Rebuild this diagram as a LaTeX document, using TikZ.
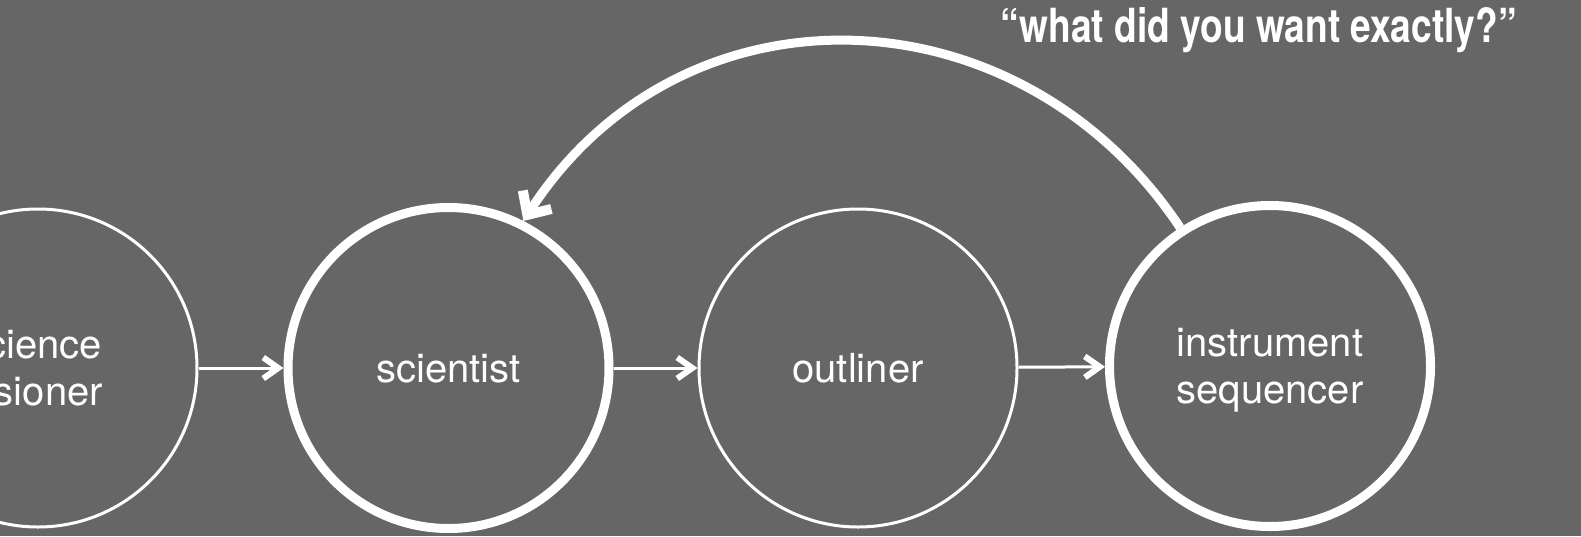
\documentclass[tikz,border=0pt]{standalone}
\usepackage{fontspec}
\setmainfont{TeX Gyre Heros}
\newfontfamily\titlefont[FakeStretch=0.79]{TeX Gyre Heros}
\usetikzlibrary{arrows.meta}
\definecolor{bg}{RGB}{102,102,102}
\tikzset{
  thinrole/.style={circle, draw=white, line width=3pt, minimum size=318pt,
    inner sep=0pt, text=white, align=center, text depth=0pt,
    font=\fontsize{40}{47}\selectfont},
  thickrole/.style={thinrole, line width=9pt, minimum size=321pt},
  labeltext/.style={text=white, align=center, text depth=0pt,
    font=\fontsize{40}{47}\selectfont, inner sep=0pt},
  handoff/.style={draw=white, line width=3pt,
    -{Straight Barb[length=15pt, width=21pt, line width=6pt]}},
  feedback/.style={draw=white, line width=9pt,
    -{Straight Barb[length=18pt, width=34pt, line width=10pt]}},
}
\begin{document}
\begin{tikzpicture}[x=1pt, y=-1pt]
  \fill[bg] (0,0) rectangle (1581,536);
  \useasboundingbox (0,0) rectangle (1581,536);

  % the four roles in the chain
  \node[thinrole]  (vis) at (38,368)   {};
  \node[labeltext] (vislabel) at (34,368) {science\\visioner};
  \node[thickrole] (sci) at (448.5,368) {scientist};
  \node[thinrole]  (out) at (858,368)  {outliner};
  \node[thickrole] (ins) at (1270,366) {instrument\\sequencer};

  % hand-offs along the chain
  \draw[handoff] (vis) -- (sci);
  \draw[handoff] (sci) -- (out);
  \draw[handoff] (out) -- (ins);

  % the question that comes back from the sequencer
  \draw[feedback] (ins.123.5) .. controls (1018.6,-14.7) and (681.8,-24.1) .. (sci.63);

  \node[anchor=base east, text=white, inner sep=0pt,
        font=\titlefont\bfseries\fontsize{47}{54}\selectfont] (question) at (1517,42)
    {“what did you want exactly?”};
\end{tikzpicture}
\end{document}
